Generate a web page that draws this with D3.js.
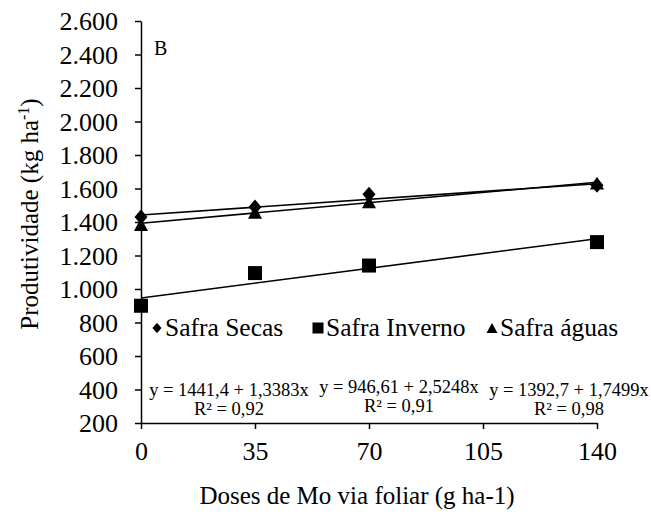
<!DOCTYPE html>
<html>
<head>
<meta charset="utf-8">
<script src="https://cdn.jsdelivr.net/npm/d3@7"></script>
<style>
  html, body { margin: 0; padding: 0; background: #fff; }
  svg, svg text { font-family: "Liberation Serif", "Times New Roman", Times, serif !important; }
</style>
</head>
<body>
<svg id="chart" width="651" height="517"></svg>
<script>
// ---- data ----
const doses = [0, 35, 70, 105, 140];
const doseLevels = [0, 35, 70, 140];
const seriesNames = ["Safra Secas", "Safra Inverno", "Safra águas"];
const secas = [1430, 1490, 1565, 1620];
const inverno = [900, 1095, 1140, 1280];
const aguas = [1385, 1458, 1520, 1632];
const intercepts = [1441.4, 946.61, 1392.7];
const slopes = [1.3383, 2.5248, 1.7499];
const equations = ["y = 1441,4 + 1,3383x", "y = 946,61 + 2,5248x", "y = 1392,7 + 1,7499x"];
const r2Labels = ["R² = 0,92", "R² = 0,91", "R² = 0,98"];
const yTicks = [200, 400, 600, 800, 1000, 1200, 1400, 1600, 1800, 2000, 2200, 2400, 2600];
const xTitle = "Doses de Mo via foliar (g ha-1)";
const panelLabel = "B";

const seriesValues = [secas, inverno, aguas];
const FONT = '"Liberation Serif", "Times New Roman", Times, serif';

// custom marker shapes (size = nominal width in px)
const diamond = { draw(ctx, s) { const w = s / 2, h = s * 0.58; ctx.moveTo(0, -h); ctx.lineTo(w, 0); ctx.lineTo(0, h); ctx.lineTo(-w, 0); ctx.closePath(); } };
const square = { draw(ctx, s) { const w = s / 2; ctx.rect(-w, -w, s, s); } };
const triangle = { draw(ctx, s) { const w = s / 2, h = s * 0.46; ctx.moveTo(0, -h); ctx.lineTo(w, h); ctx.lineTo(-w, h); ctx.closePath(); } };
const symbols = [diamond, square, triangle];

// ---- layout ----
const svg = d3.select("#chart");
const x = d3.scaleLinear().domain([0, 140]).range([141, 597]);
const y = d3.scaleLinear().domain([200, 2600]).range([423, 21]);
const ptLocale = d3.formatLocale({ decimal: ",", thousands: ".", grouping: [3], currency: ["R$", ""] });
const fmt = ptLocale.format(",d");

// axes
const yAxis = d3.axisLeft(y).tickValues(yTicks).tickFormat(fmt).tickSize(6).tickSizeOuter(0).tickPadding(17);
const gy = svg.append("g").attr("transform", `translate(${x(0)},0)`).call(yAxis);
gy.attr("font-family", null).attr("font-size", null);
gy.select(".domain").attr("stroke", "#000").attr("stroke-width", 1.5);
gy.selectAll(".tick line").attr("stroke", "#000").attr("stroke-width", 1.5);
gy.selectAll(".tick text").attr("font-size", 26).attr("fill", "#000").style("font-family", FONT).attr("dy", "0.33em");

const xAxis = d3.axisBottom(x).tickValues(doses).tickFormat(d3.format("d")).tickSize(6).tickSizeOuter(0).tickPadding(13);
const gx = svg.append("g").attr("transform", `translate(0,${y(200)})`).call(xAxis);
gx.attr("font-family", null).attr("font-size", null);
gx.select(".domain").attr("stroke", "#000").attr("stroke-width", 1.5);
gx.selectAll(".tick line").attr("stroke", "#000").attr("stroke-width", 1.5);
gx.selectAll(".tick text").attr("font-size", 26).attr("fill", "#000").style("font-family", FONT);

// trend lines
intercepts.forEach((b, i) => {
  const m = slopes[i];
  svg.append("line")
    .attr("x1", x(0)).attr("y1", y(b + m * 0))
    .attr("x2", x(140)).attr("y2", y(b + m * 140))
    .attr("stroke", "#000").attr("stroke-width", 1.6);
});

// markers
const markerSizes = [13, 14, 14];
seriesValues.forEach((vals, i) => {
  svg.append("g").selectAll("path")
    .data(vals)
    .join("path")
    .attr("d", d3.symbol().type(symbols[i]).size(markerSizes[i]))
    .attr("transform", (d, j) => `translate(${x(doseLevels[j])},${y(d)})`)
    .attr("fill", "#000");
});

// panel label
svg.append("text").attr("x", 154).attr("y", 55).attr("font-size", 20).style("font-family", FONT).text(panelLabel);

// legend
const legendX = [157, 318, 492];
const legendY = 328;
const legendSizes = [9, 11, 11];
seriesNames.forEach((name, i) => {
  svg.append("path")
    .attr("d", d3.symbol().type(symbols[i]).size(legendSizes[i]))
    .attr("transform", `translate(${legendX[i]},${legendY})`)
    .attr("fill", "#000");
  svg.append("text")
    .attr("x", legendX[i] + 8).attr("y", legendY + 8)
    .attr("font-size", 25.5).style("font-family", FONT).text(name);
});

// equations
const eqX = [229, 399, 569];
const eqY = [396, 393, 396];
equations.forEach((eq, i) => {
  svg.append("text").attr("x", eqX[i]).attr("y", eqY[i]).attr("text-anchor", "middle").attr("font-size", 18.5).style("font-family", FONT).text(eq);
  svg.append("text").attr("x", eqX[i]).attr("y", eqY[i] + 19).attr("text-anchor", "middle").attr("font-size", 18.5).style("font-family", FONT).text(r2Labels[i]);
});

// axis titles
svg.append("text").attr("x", 357).attr("y", 504).attr("text-anchor", "middle").attr("font-size", 25).style("font-family", FONT).text(xTitle);

const yt = svg.append("text")
  .attr("transform", "translate(38,214) rotate(-90)")
  .attr("text-anchor", "middle")
  .attr("font-size", 25)
  .style("font-family", FONT);
yt.append("tspan").text("Produtividade (kg ha");
yt.append("tspan").attr("font-size", 16).attr("dy", -9).text("-1");
yt.append("tspan").attr("dy", 9).text(")");
</script>
</body>
</html>
